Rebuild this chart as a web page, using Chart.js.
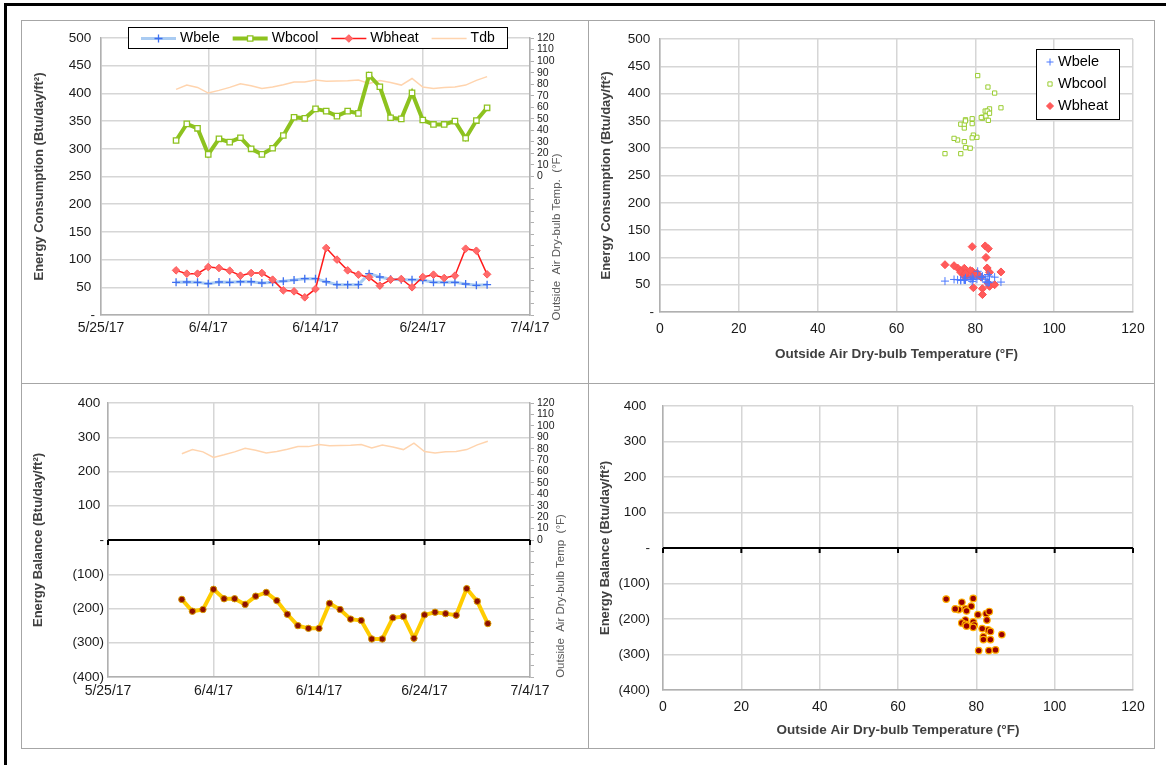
<!DOCTYPE html>
<html>
<head>
<meta charset="utf-8">
<script src="https://cdn.jsdelivr.net/npm/chart.js@4.4.0/dist/chart.umd.min.js"></script>
<style>
body { margin: 0; background: #fff; width: 1166px; height: 765px; overflow: hidden; position: relative; }
.frame { position: absolute; left: 4px; top: 3px; width: 1200px; height: 800px; border: 3px solid #000; box-sizing: border-box; }
.panel { position: absolute; border: 1px solid #A6A6A6; box-sizing: border-box; }
canvas { position: absolute; }
</style>
</head>
<body>
<div class="frame"></div>
<div class="panel" style="left:21px;top:20px;width:568px;height:364px"></div>
<div class="panel" style="left:588px;top:20px;width:567px;height:364px"></div>
<div class="panel" style="left:21px;top:383px;width:568px;height:366px"></div>
<div class="panel" style="left:588px;top:383px;width:567px;height:366px"></div>
<canvas id="c1" width="565" height="361" style="left:22px;top:21px"></canvas>
<canvas id="c2" width="565" height="361" style="left:589px;top:21px"></canvas>
<canvas id="c3" width="565" height="363" style="left:22px;top:384px"></canvas>
<canvas id="c4" width="565" height="363" style="left:589px;top:384px"></canvas>
<script>
// Daily data, June 2017
const dates = ['6/1/17','6/2/17','6/3/17','6/4/17','6/5/17','6/6/17','6/7/17','6/8/17','6/9/17','6/10/17',
  '6/11/17','6/12/17','6/13/17','6/14/17','6/15/17','6/16/17','6/17/17','6/18/17','6/19/17','6/20/17',
  '6/21/17','6/22/17','6/23/17','6/24/17','6/25/17','6/26/17','6/27/17','6/28/17','6/29/17','6/30/17'];
const wbele = [59, 59.6, 59, 56.6, 59.6, 59, 60, 60, 57.8, 59, 61, 63, 65.6, 65.6, 60,
  54.8, 54.8, 54.8, 74.6, 68.6, 64.4, 63.8, 63.8, 62.6, 59, 59, 59, 56, 53.6, 54.8];
const wbcool = [315, 345, 337, 290, 318, 312, 320, 300, 290, 301, 324, 357, 355, 372, 368,
  359, 368, 364, 433, 412, 356, 354, 401, 352, 344, 344, 350, 319, 351, 374];
const wbheat = [80.6, 74.6, 74.6, 86.6, 84.8, 80, 71, 75.8, 75.8, 63.8, 44.5, 42.7, 31.9, 47, 121,
  100, 80.6, 72.8, 68, 53, 63.8, 65, 50, 68.6, 72.8, 66.8, 71, 119.7, 116, 73.4];
const tdb = [75.5, 79.2, 77.2, 72.3, 74.6, 77.2, 80.4, 78.7, 76.3, 77.5, 79.5, 81.8, 81.8, 83.6, 82.5,
  82.7, 83, 83.6, 80.6, 83.2, 81.5, 79.2, 84.9, 77.5, 76.3, 77.2, 77.5, 79.2, 83.3, 86.5];
const balance = [-173.5, -208, -203, -144, -171.5, -171.5, -188, -164, -153, -177, -217, -250, -258, -258, -185,
  -203, -231, -235, -289, -289, -227, -223.5, -287, -218.6, -211, -215, -219.6, -142, -179, -244];

const dateTicks = ['5/25/17', '6/4/17', '6/14/17', '6/24/17', '7/4/17'];

Chart.defaults.font.family = '"Liberation Sans", Arial, sans-serif';
Chart.defaults.color = '#1a1a1a';
Chart.defaults.animation = false;
Chart.defaults.plugins.legend.display = false;
Chart.defaults.plugins.tooltip.enabled = false;

const GRID = '#D6D6D6';
const AXIS = '#B0B0B0';
const TITLE = '#404040';

// days since 5/25/17
function dayOf(s) {
    const [m, d, y] = s.split('/').map(Number);
    return Math.round((Date.UTC(2000 + y, m - 1, d) - Date.UTC(2017, 4, 25)) / 86400000);
}

// Excel accounting style labels
function acct(v) {
    if (v === 0) return '-';
    if (v < 0) return '(' + Math.abs(v) + ')';
    return v + ' ';
}

const byDate = arr => dates.map((d, i) => ({ x: dayOf(d), y: arr[i] }));
const byTemp = arr => tdb.map((t, i) => ({ x: t, y: arr[i] }));

// Legend drawn as a box inside the canvas
const boxLegend = {
    id: 'boxLegend',
    afterDraw(chart, args, o) {
        const ctx = chart.ctx;
        ctx.save();
        ctx.fillStyle = '#fff';
        ctx.fillRect(o.x, o.y, o.w, o.h);
        ctx.strokeStyle = '#000';
        ctx.lineWidth = 1;
        ctx.strokeRect(o.x + 0.5, o.y + 0.5, o.w, o.h);
        ctx.font = o.fontSize + 'px "Liberation Sans", Arial, sans-serif';
        ctx.fillStyle = '#000';
        ctx.textBaseline = 'middle';
        let x = o.x + o.padX;
        chart.data.datasets.forEach((ds, i) => {
            let cx, cy;
            if (o.row) {
                cy = o.y + o.h / 2 + 1;
                ctx.strokeStyle = ds.borderColor;
                ctx.lineWidth = ds.borderWidth;
                ctx.beginPath();
                ctx.moveTo(x, cy);
                ctx.lineTo(x + o.sample, cy);
                ctx.stroke();
                cx = x + o.sample / 2;
            } else {
                cy = o.y + o.rowH * (i + 0.5) + 2;
                cx = o.x + o.padX;
            }
            if (ds.pointRadius) {
                ctx.save();
                ctx.fillStyle = ds.pointBackgroundColor;
                ctx.strokeStyle = ds.pointBorderColor;
                ctx.lineWidth = ds.pointBorderWidth;
                const r = o.row ? ds.pointRadius : Math.min(ds.pointRadius, 3.5);
                Chart.helpers.drawPoint(ctx, { pointStyle: ds.pointStyle, radius: r, borderWidth: ds.pointBorderWidth, rotation: 0 }, cx, cy);
                ctx.restore();
            }
            ctx.fillStyle = '#000';
            if (o.row) {
                ctx.fillText(ds.label, x + o.sample + 4, cy);
                x += o.sample + 4 + ctx.measureText(ds.label).width + 13;
            } else {
                ctx.fillText(ds.label, cx + 8, cy);
            }
        });
        ctx.restore();
    }
};

// Rotated secondary axis title
const sideTitle = {
    id: 'sideTitle',
    afterDraw(chart, args, o) {
        const ctx = chart.ctx;
        ctx.save();
        ctx.translate(o.x, o.y);
        ctx.rotate(-Math.PI / 2);
        ctx.font = '11.5px "Liberation Sans", Arial, sans-serif';
        ctx.fillStyle = '#595959';
        ctx.textAlign = 'center';
        ctx.textBaseline = 'middle';
        ctx.fillText(o.text, 0, 0);
        ctx.restore();
    }
};

// Black horizontal axis crossing at zero
const zeroLine = {
    id: 'zeroLine',
    beforeDatasetsDraw(chart) {
        const { ctx, chartArea, scales } = chart;
        const y = scales.y.getPixelForValue(0);
        ctx.save();
        ctx.strokeStyle = '#000';
        ctx.lineWidth = 2;
        ctx.beginPath();
        ctx.moveTo(chartArea.left, y);
        ctx.lineTo(chartArea.right, y);
        scales.x.ticks.forEach(t => {
            const x = scales.x.getPixelForValue(t.value);
            ctx.moveTo(x, y);
            ctx.lineTo(x, y + 5);
        });
        ctx.stroke();
        ctx.restore();
    }
};

function dateAxis(h, pad) {
    return {
        type: 'linear',
        min: dayOf(dateTicks[0]),
        max: dayOf(dateTicks[dateTicks.length - 1]),
        afterBuildTicks: s => { s.ticks = dateTicks.map(t => ({ value: dayOf(t) })); },
        afterFit: s => { s.height = h; },
        grid: { color: GRID, lineWidth: 1.5, drawTicks: false },
        border: { color: AXIS, width: 1.5 },
        ticks: { padding: pad, font: { size: 14 }, maxRotation: 0, autoSkip: false,
            callback: v => dateTicks.find(t => dayOf(t) === v) || '' }
    };
}

function tempXAxis(h, titlePad) {
    return {
        type: 'linear', min: 0, max: 120,
        afterFit: s => { s.height = h; },
        grid: { color: GRID, lineWidth: 1.5, drawTicks: false },
        border: { color: AXIS, width: 1.5 },
        ticks: { stepSize: 20, padding: 9, font: { size: 14 }, maxRotation: 0 },
        title: { display: true, text: 'Outside Air Dry-bulb Temperature (°F)', color: TITLE,
            font: { size: 13.5, weight: 'bold' }, padding: { top: 0, bottom: titlePad } }
    };
}

function valueAxis(min, max, step, w, pad, title, titlePad) {
    return {
        position: 'left', min, max,
        afterFit: s => { s.width = w; },
        grid: { color: c => (min < 0 && c.tick.value === 0) ? 'rgba(0,0,0,0)' : GRID, lineWidth: 1.5, drawTicks: false },
        border: { color: AXIS, width: 1.5 },
        ticks: { stepSize: step, padding: pad, font: { size: 13.5 }, callback: acct },
        title: { display: true, text: title, color: TITLE, font: { size: 13, weight: 'bold' },
            padding: { top: titlePad, bottom: 0 } }
    };
}

function tempYAxis(w) {
    return {
        position: 'right', min: -120, max: 120,
        afterFit: s => { s.width = w; },
        grid: { drawOnChartArea: false, color: AXIS, tickLength: 4 },
        border: { color: AXIS, width: 1.5 },
        ticks: { stepSize: 10, padding: 3, font: { size: 10.5 }, autoSkip: false,
            callback: v => v >= 0 ? v : '' }
    };
}

const tdbLine = {
    label: 'Tdb', data: byDate(tdb), yAxisID: 'y2', order: 5,
    borderColor: '#FFD4AE', borderWidth: 1.5, pointRadius: 0, tension: 0
};

// Top left: daily energy consumption
new Chart(document.getElementById('c1'), {
    type: 'line',
    data: {
        datasets: [
            { label: 'Wbele', data: byDate(wbele), order: 2, borderColor: '#A9CBF2', borderWidth: 3,
              pointStyle: 'cross', pointRadius: 4, pointBorderColor: '#3D6EF0', pointBackgroundColor: '#3D6EF0', pointBorderWidth: 1.3 },
            { label: 'Wbcool', data: byDate(wbcool), order: 3, borderColor: '#8DC21F', borderWidth: 4,
              pointStyle: 'rect', pointRadius: 3.8, pointBorderColor: '#8DC21F', pointBackgroundColor: '#fff', pointBorderWidth: 1.3 },
            { label: 'Wbheat', data: byDate(wbheat), order: 1, borderColor: '#FF1A1A', borderWidth: 1.5,
              pointStyle: 'rectRot', pointRadius: 3.8, pointBorderColor: '#FF5A5A', pointBackgroundColor: '#FF6B6B', pointBorderWidth: 1 },
            tdbLine
        ]
    },
    options: {
        responsive: false,
        layout: { padding: { top: 17, left: 0, right: 0, bottom: 0 } },
        scales: {
            x: dateAxis(67, 5),
            y: valueAxis(0, 500, 50, 79, 6, 'Energy Consumption (Btu/day/ft²)', 10),
            y2: tempYAxis(57)
        },
        plugins: {
            boxLegend: { row: true, x: 106, y: 6, w: 379, h: 21, padX: 13, sample: 35, fontSize: 14 },
            sideTitle: { x: 535, y: 216, text: 'Outside  Air Dry-bulb Temp.  (°F)' }
        }
    },
    plugins: [boxLegend, sideTitle]
});

// Top right: consumption vs outdoor temperature
new Chart(document.getElementById('c2'), {
    type: 'scatter',
    data: {
        datasets: [
            { label: 'Wbele', data: byTemp(wbele), pointStyle: 'cross', pointRadius: 4,
              pointBorderColor: '#4A78FF', pointBackgroundColor: '#4A78FF', pointBorderWidth: 1 },
            { label: 'Wbcool', data: byTemp(wbcool), pointStyle: 'rect', pointRadius: 3,
              pointBorderColor: '#9ACD32', pointBackgroundColor: '#fff', pointBorderWidth: 1 },
            { label: 'Wbheat', data: byTemp(wbheat), pointStyle: 'rectRot', pointRadius: 4,
              pointBorderColor: '#FF5050', pointBackgroundColor: '#FF5A5A', pointBorderWidth: 1 }
        ]
    },
    options: {
        responsive: false,
        layout: { padding: { top: 18, left: 0, right: 21, bottom: 0 } },
        scales: {
            x: tempXAxis(70, 20),
            y: valueAxis(0, 500, 50, 71, 6, 'Energy Consumption (Btu/day/ft²)', 10)
        },
        plugins: {
            boxLegend: { row: false, x: 447, y: 28, w: 83, h: 70, padX: 14, rowH: 22, fontSize: 14.5 }
        }
    },
    plugins: [boxLegend]
});

// Bottom left: daily energy balance
new Chart(document.getElementById('c3'), {
    type: 'line',
    data: {
        datasets: [
            { label: 'Balance', data: byDate(balance), order: 1, borderColor: '#FFCC00', borderWidth: 4,
              pointStyle: 'circle', pointRadius: 3.2, pointBorderColor: '#D89A00', pointBackgroundColor: '#8E0F00', pointBorderWidth: 1 },
            tdbLine
        ]
    },
    options: {
        responsive: false,
        layout: { padding: { top: 19, left: 0, right: 0, bottom: 0 } },
        scales: {
            x: dateAxis(70, 6),
            y: valueAxis(-400, 400, 100, 86, 4, 'Energy Balance (Btu/day/ft²)', 9),
            y2: tempYAxis(57)
        },
        plugins: {
            sideTitle: { x: 539, y: 212, text: 'Outside  Air Dry-bulb Temp  (°F)' }
        }
    },
    plugins: [zeroLine, sideTitle]
});

// Bottom right: balance vs outdoor temperature
new Chart(document.getElementById('c4'), {
    type: 'scatter',
    data: {
        datasets: [
            { label: 'Balance', data: byTemp(balance), pointStyle: 'circle', pointRadius: 3.3,
              pointBorderColor: '#FFB000', pointBackgroundColor: '#990000', pointBorderWidth: 1.2 }
        ]
    },
    options: {
        responsive: false,
        layout: { padding: { top: 22, left: 0, right: 21, bottom: 0 } },
        scales: {
            x: tempXAxis(57, 9),
            y: valueAxis(-400, 400, 100, 74, 13, 'Energy Balance (Btu/day/ft²)', 9)
        }
    },
    plugins: [zeroLine]
});
</script>
</body>
</html>
